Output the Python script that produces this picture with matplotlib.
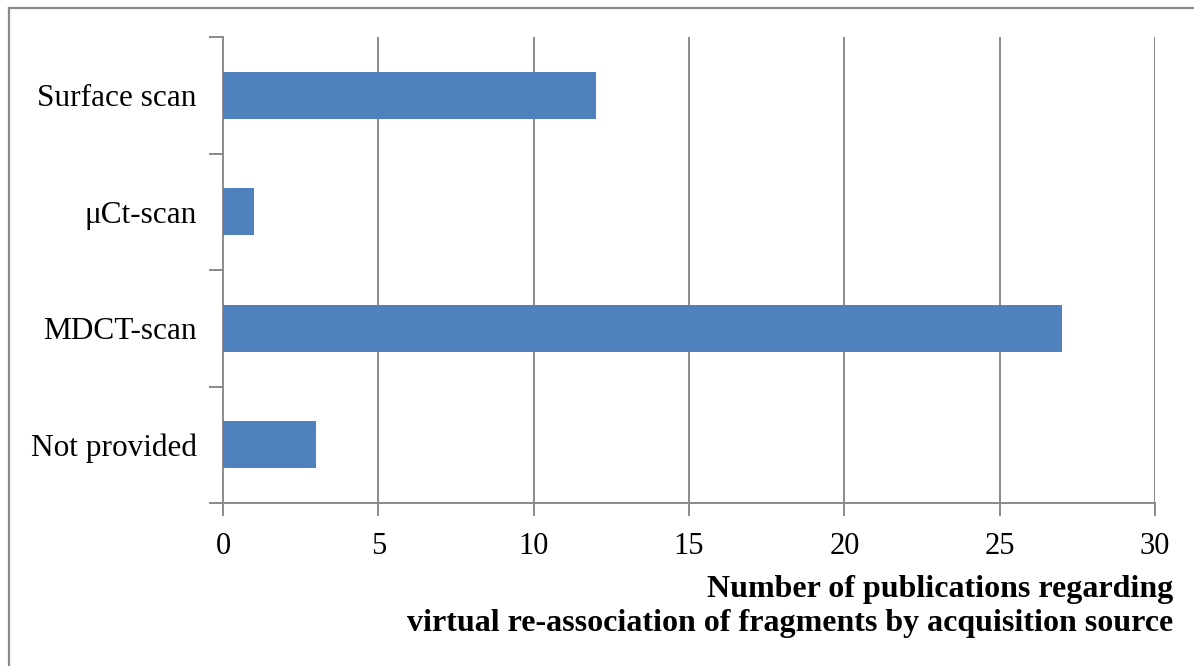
import matplotlib
matplotlib.use("Agg")
import matplotlib.pyplot as plt
from matplotlib.lines import Line2D

# publications per acquisition source
categories = ["Surface scan", "μCt-scan", "MDCT-scan", "Not provided"]
counts = [12, 1, 27, 3]
x_ticks = [0, 5, 10, 15, 20, 25, 30]
axis_title = ("Number of publications regarding\n"
              "virtual re-association of fragments by acquisition source")

BAR_COLOR = "#4f81bd"
LINE_COLOR = "#8a8a8a"

plt.rcParams["font.family"] = ["Liberation Serif", "DejaVu Serif"]

fig = plt.figure(figsize=(11.94, 6.66), dpi=100)
ax = fig.add_axes([223 / 1194, 1 - 503 / 666, (1155 - 223) / 1194, (503 - 37) / 666])

ypos = list(range(len(categories)))
ax.barh(ypos, counts, height=0.4, color=BAR_COLOR, zorder=3)

ax.set_xlim(x_ticks[0], x_ticks[-1])
ax.set_ylim(len(categories) - 0.5, -0.5)
ax.set_xticks(x_ticks)
ax.set_xticklabels([str(t) for t in x_ticks])

# category labels centred, tick marks on the boundaries between them
ax.set_yticks(ypos)
ax.set_yticklabels(categories)
ax.set_yticks([i - 0.5 for i in range(len(categories) + 1)], minor=True)
ax.tick_params(axis="y", which="major", length=0, pad=19, labelsize=22.5)
ax.tick_params(axis="y", which="minor", length=10, width=1.4, color=LINE_COLOR)
ax.tick_params(axis="x", length=9, width=1.4, color=LINE_COLOR, pad=12, labelsize=22)

for xv in x_ticks[1:]:
    ax.axvline(xv, color=LINE_COLOR, linewidth=1.4, zorder=1)

for side in ("top", "right"):
    ax.spines[side].set_visible(False)
for side in ("left", "bottom"):
    ax.spines[side].set_color(LINE_COLOR)
    ax.spines[side].set_linewidth(1.4)

fig.text(1173 / 1194, 1 - 575 / 666, axis_title, ha="right", va="top",
         fontsize=23, fontweight="bold", linespacing=1.22, multialignment="right")

# outer frame (left and top edges)
fig.add_artist(Line2D([9 / 1194, 9 / 1194], [0, 1 - 8 / 666],
                      transform=fig.transFigure, color=LINE_COLOR, linewidth=1.6))
fig.add_artist(Line2D([9 / 1194, 1], [1 - 8 / 666, 1 - 8 / 666],
                      transform=fig.transFigure, color=LINE_COLOR, linewidth=1.6))

fig.savefig("out.png", dpi=100)
